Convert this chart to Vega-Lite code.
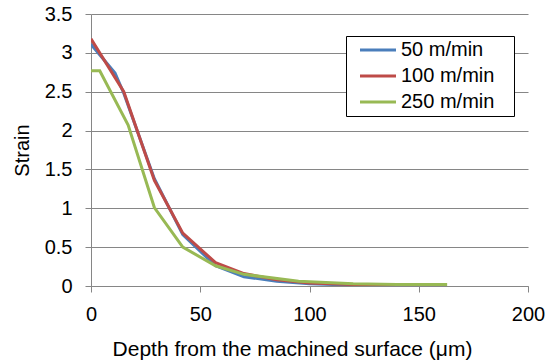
{
  "$schema": "https://vega.github.io/schema/vega-lite/v6.json",
  "width": 437,
  "height": 272,
  "autosize": "none",
  "padding": {"left": 91, "top": 14, "right": 19, "bottom": 78},
  "background": "white",
  "config": {
    "font": "Liberation Sans",
    "view": {"stroke": null},
    "axis": {"labelFont": "Liberation Sans", "titleFont": "Liberation Sans", "labelColor": "black", "titleColor": "black", "titleFontWeight": "normal", "labelFlush": false}
  },
  "data": {
    "values": [
      {"depth": 0, "strain": 3.11, "speed": "50 m/min"},
      {"depth": 11, "strain": 2.74, "speed": "50 m/min"},
      {"depth": 15, "strain": 2.48, "speed": "50 m/min"},
      {"depth": 29, "strain": 1.38, "speed": "50 m/min"},
      {"depth": 42, "strain": 0.66, "speed": "50 m/min"},
      {"depth": 57, "strain": 0.26, "speed": "50 m/min"},
      {"depth": 70, "strain": 0.12, "speed": "50 m/min"},
      {"depth": 85, "strain": 0.06, "speed": "50 m/min"},
      {"depth": 100, "strain": 0.03, "speed": "50 m/min"},
      {"depth": 120, "strain": 0.01, "speed": "50 m/min"},
      {"depth": 140, "strain": 0.01, "speed": "50 m/min"},
      {"depth": 0, "strain": 3.18, "speed": "100 m/min"},
      {"depth": 15, "strain": 2.5, "speed": "100 m/min"},
      {"depth": 29, "strain": 1.36, "speed": "100 m/min"},
      {"depth": 42, "strain": 0.68, "speed": "100 m/min"},
      {"depth": 57, "strain": 0.3, "speed": "100 m/min"},
      {"depth": 70, "strain": 0.16, "speed": "100 m/min"},
      {"depth": 85, "strain": 0.08, "speed": "100 m/min"},
      {"depth": 100, "strain": 0.04, "speed": "100 m/min"},
      {"depth": 120, "strain": 0.02, "speed": "100 m/min"},
      {"depth": 140, "strain": 0.01, "speed": "100 m/min"},
      {"depth": 0, "strain": 2.77, "speed": "250 m/min"},
      {"depth": 4, "strain": 2.77, "speed": "250 m/min"},
      {"depth": 17, "strain": 2.07, "speed": "250 m/min"},
      {"depth": 29, "strain": 1.01, "speed": "250 m/min"},
      {"depth": 42, "strain": 0.5, "speed": "250 m/min"},
      {"depth": 57, "strain": 0.26, "speed": "250 m/min"},
      {"depth": 70, "strain": 0.15, "speed": "250 m/min"},
      {"depth": 95, "strain": 0.06, "speed": "250 m/min"},
      {"depth": 120, "strain": 0.03, "speed": "250 m/min"},
      {"depth": 140, "strain": 0.02, "speed": "250 m/min"},
      {"depth": 163, "strain": 0.02, "speed": "250 m/min"}
    ]
  },
  "mark": {"type": "line", "strokeWidth": 3, "clip": true},
  "encoding": {
    "x": {
      "field": "depth", "type": "quantitative",
      "scale": {"domain": [0, 200], "nice": false},
      "axis": {
        "title": "Depth from the machined surface (μm)",
        "values": [0, 50, 100, 150, 200],
        "grid": false, "labelFlush": false,
        "domainColor": "#868686", "tickColor": "#868686", "tickSize": 6,
        "labelFontSize": 20, "labelPadding": 12,
        "titleFontSize": 21, "titleX": 201, "titleY": 69, "titleBaseline": "alphabetic", "titleAnchor": "middle"
      }
    },
    "y": {
      "field": "strain", "type": "quantitative",
      "scale": {"domain": [0, 3.5], "nice": false},
      "axis": {
        "title": "Strain",
        "values": [0, 0.5, 1, 1.5, 2, 2.5, 3, 3.5],
        "format": "~g", "labelFlush": false,
        "grid": true, "gridColor": "#868686", "gridWidth": 1,
        "domainColor": "#868686", "tickColor": "#868686", "tickSize": 6,
        "labelFontSize": 20, "labelPadding": 13,
        "titleFontSize": 20, "titleX": -69, "titleY": 136, "titleAnchor": "middle", "titleBaseline": "middle", "titleAngle": -90
      }
    },
    "color": {
      "field": "speed", "type": "nominal",
      "scale": {"domain": ["50 m/min", "100 m/min", "250 m/min"], "range": ["#4A7EBB", "#BE4B48", "#98B954"]},
      "legend": {
        "title": null,
        "orient": "none",
        "legendX": 255, "legendY": 22,
        "strokeColor": "black", "fillColor": "white",
        "padding": 4,
        "symbolType": "M0,0H6", "symbolStrokeWidth": 3, "symbolSize": 144,
        "symbolOffset": 0,
        "rowPadding": 6,
        "labelFontSize": 20, "labelColor": "black", "labelOffset": 31,
        "labelExpr": "datum.label + '\u2800'"
      }
    }
  }
}
